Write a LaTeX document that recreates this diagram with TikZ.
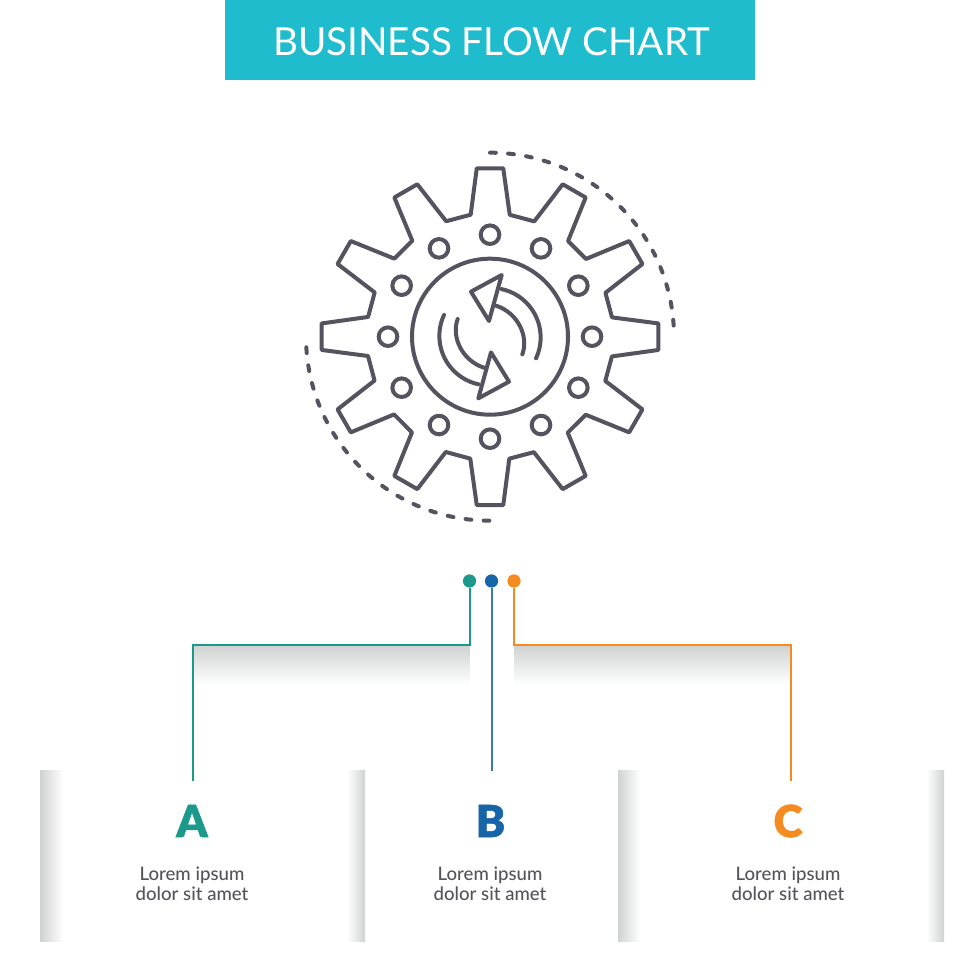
\documentclass[tikz,border=0pt]{standalone}
\usepackage{fontspec}
\setmainfont{Lato}
\newfontfamily\blackfont[FakeBold=1.2]{Lato Black}
\newfontfamily\mediumfont{Lato Medium}
\usetikzlibrary{calc}
\definecolor{bandteal}{HTML}{1FBCCD}
\definecolor{iconline}{HTML}{55535F}
\definecolor{textgray}{HTML}{55545B}
\definecolor{stepteal}{HTML}{1B998B}
\definecolor{stepblue}{HTML}{1565A8}
\definecolor{stepline}{HTML}{3A7DA5}
\definecolor{steporange}{HTML}{F58A1F}
\definecolor{shadegray}{HTML}{D0D2D2}
\tikzset{
  icon/.style={draw=iconline, line width=2pt, line join=round, line cap=round},
  dotarc/.style={draw=iconline, line width=2pt, line cap=round, dash pattern=on 2.9pt off 6.17pt},
  pin/.style={circle, inner sep=0pt, minimum size=6.6pt},
  letter/.style={font=\blackfont\fontsize{22}{22}\selectfont},
  caption/.style={align=center, text=textgray, font=\mediumfont\fontsize{9.3}{10.2}\selectfont},
  stepline/.style={line width=1pt},
  fadedown/.style={top color=shadegray, middle color=shadegray!40, bottom color=white},
  fadeleft/.style={left color=shadegray, middle color=shadegray!40, right color=white},
  faderight/.style={left color=white, middle color=shadegray!40, right color=shadegray},
}
\begin{document}
\begin{tikzpicture}[x=0.5pt, y=0.5pt]
    \useasboundingbox (0,0) rectangle (980,980);
    \fill[white] (0,0) rectangle (980,980);
    \fill[bandteal] (225,900) rectangle (755,980);
    \node[text=white, font=\fontsize{19.3}{19.3}\selectfont] (title) at (491.5,938) {BUSINESS FLOW CHART};
    \coordinate (G) at (490,643.3);
    \draw[icon] ($(G)+(85.5:168.9)$)
      \foreach \a in {0,30,...,330} {
        -- ($(G)+(85.5-\a:168.9)$) -- ($(G)+(80.8-\a:123.5)$) -- ($(G)+(69-\a:123.5)$) -- ($(G)+(64.5-\a:168.9)$)
      } -- cycle;
    \foreach \a in {0,30,...,330}
      \draw[icon] ($(G)+(\a:102)$) circle (9.3);
    \draw[icon] (G) circle (78);
    \foreach \r in {0,180} {
      \begin{scope}[rotate around={\r:(G)}]
        \draw[icon] ($(G)+(11.7,61.7)$) -- ($(G)+(-19,45)$) -- ($(G)+(-1,15.7)$) -- cycle;
        \draw[icon] ($(G)+(46,-21.7)$) arc (-25:78:49.5);
        \draw[icon] ($(G)+(32.3,-17.7)$) .. controls ($(G)+(39,0)$) and ($(G)+(28,24)$) .. ($(G)+(6,31)$);
      \end{scope}
    }
    \draw[dotarc] ($(G)+(90:184)$) arc (90:3.4:184);
    \draw[dotarc] ($(G)+(183.3:184)$) arc (183.3:269.8:184);
    \shade[fadedown] (192.5,335) rectangle (469.5,295);
    \shade[fadedown] (514,335) rectangle (791,295);
    \shade[fadeleft] (40,38) rectangle (63,209);
    \shade[faderight] (347,38) rectangle (365,209);
    \shade[fadeleft] (618,38) rectangle (640,209);
    \shade[faderight] (926,38) rectangle (944,209);
    \node[pin, fill=stepteal] (pinA) at (469.5,399) {};
    \node[pin, fill=stepblue] (pinB) at (491.5,399) {};
    \node[pin, fill=steporange] (pinC) at (514,399) {};
    \coordinate (turnA) at (192.5,335);
    \coordinate (endA) at (192.5,199);
    \coordinate (endB) at (491.5,209);
    \coordinate (turnC) at (791,335);
    \coordinate (endC) at (791,199);
    \draw[stepline, draw=stepteal] (pinA) |- (turnA) -- (endA);
    \draw[stepline, draw=stepline] (pinB) -- (endB);
    \draw[stepline, draw=steporange] (pinC) |- (turnC) -- (endC);
    \node[letter, text=stepteal] (letterA) at (192,159) {A};
    \node[letter, text=stepblue] (letterB) at (490.5,159) {B};
    \node[letter, text=steporange] (letterC) at (788,159) {C};
    \node[caption] (textA) at (192,96) {Lorem ipsum\\dolor sit amet};
    \node[caption] (textB) at (490,96) {Lorem ipsum\\dolor sit amet};
    \node[caption] (textC) at (788,96) {Lorem ipsum\\dolor sit amet};
\end{tikzpicture}
\end{document}
